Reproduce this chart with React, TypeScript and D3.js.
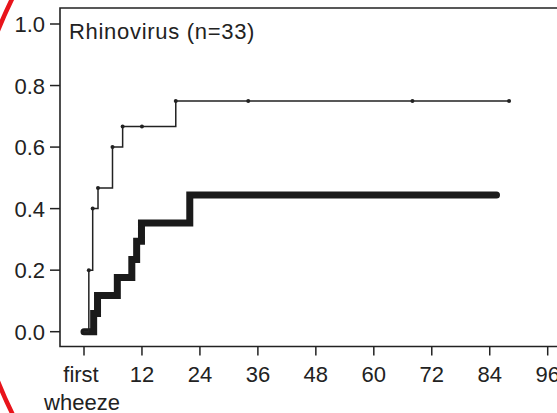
import * as d3 from 'd3'

// months since first wheeze, cumulative proportion
const thinTimes = [0, 1, 1.8, 2.9, 5.9, 8, 19, 88]
const thinValues = [0, 0.2, 0.4, 0.467, 0.6, 0.667, 0.75, 0.75]
const thinCensored = [12, 34, 68, 88]

const thickTimes = [0, 2, 2.8, 6.9, 9.9, 10.9, 11.9, 21.9, 85.4]
const thickValues = [0, 0.059, 0.118, 0.176, 0.235, 0.294, 0.353, 0.444, 0.444]

const xTicks = [0, 12, 24, 36, 48, 60, 72, 84, 96]
const yTicks = [0, 0.2, 0.4, 0.6, 0.8, 1.0]
const title = 'Rhinovirus (n=33)'

type Pt = { t: number; v: number }

const W = 557
const H = 413
const frame = { left: 60, top: 8, bottom: 346.5 }
const font = '"Liberation Sans", Arial, sans-serif'
const ink = '#222'

export default function App() {
  const x = d3.scaleLinear().domain([0, 96]).range([84, 547.7])
  const y = d3.scaleLinear().domain([0, 1]).range([331.7, 24])

  const thin: Pt[] = thinTimes.map((t, i) => ({ t, v: thinValues[i] }))
  const thick: Pt[] = thickTimes.map((t, i) => ({ t, v: thickValues[i] }))

  const step = d3
    .line<Pt>()
    .x((d) => x(d.t))
    .y((d) => y(d.v))
    .curve(d3.curveStepAfter)

  // value of the thin curve at a given time
  const thinAt = (t: number) => {
    let v = 0
    thin.forEach((d) => {
      if (d.t <= t) v = d.v
    })
    return v
  }

  return (
    <svg width={W} height={H} style={{ position: 'absolute', left: 0, top: 0, background: '#fff' }}>
      {/* frame */}
      <path
        d={`M${W + 10},${frame.top}H${frame.left}V${frame.bottom}H${W + 10}`}
        fill="none"
        stroke={ink}
        strokeWidth={1.6}
      />

      {/* y axis */}
      {yTicks.map((t) => (
        <g key={'y' + t}>
          <line x1={50} x2={frame.left} y1={y(t)} y2={y(t)} stroke={ink} strokeWidth={1.5} />
          <text x={45} y={y(t) + 8} textAnchor="end" fontFamily={font} fontSize={22} fill={ink}>
            {t.toFixed(1)}
          </text>
        </g>
      ))}

      {/* x axis */}
      {xTicks.map((t) => (
        <g key={'x' + t}>
          <line x1={x(t)} x2={x(t)} y1={frame.bottom} y2={frame.bottom + 9} stroke={ink} strokeWidth={1.5} />
          {t === 0 ? (
            <text textAnchor="middle" fontFamily={font} fontSize={22} fill={ink}>
              <tspan x={x(t) - 3} y={381.5}>first</tspan>
              <tspan x={x(t) - 2} y={409.5}>wheeze</tspan>
            </text>
          ) : (
            <text x={x(t)} y={381.5} textAnchor="middle" fontFamily={font} fontSize={22} fill={ink}>
              {t}
            </text>
          )}
        </g>
      ))}

      <text x={69} y={38.5} fontFamily={font} fontSize={22} letterSpacing={0.7} fill={ink}>
        {title}
      </text>

      {/* thick curve */}
      <path
        d={step(thick) ?? ''}
        fill="none"
        stroke="#1a1a1a"
        strokeWidth={7}
        strokeLinecap="round"
        strokeLinejoin="miter"
      />

      {/* thin curve */}
      <path d={step(thin) ?? ''} fill="none" stroke={ink} strokeWidth={1.5} />
      {thin.slice(1, -1).map((d, i) => (
        <circle key={'e' + i} cx={x(d.t)} cy={y(d.v)} r={2} fill={ink} />
      ))}
      {thinCensored.map((t) => (
        <circle key={'c' + t} cx={x(t)} cy={y(thinAt(t))} r={2} fill={ink} />
      ))}

      {/* red annotation ring */}
      <circle cx={434} cy={206} r={470} fill="none" stroke="#e8141b" strokeWidth={4.5} />
    </svg>
  )
}
